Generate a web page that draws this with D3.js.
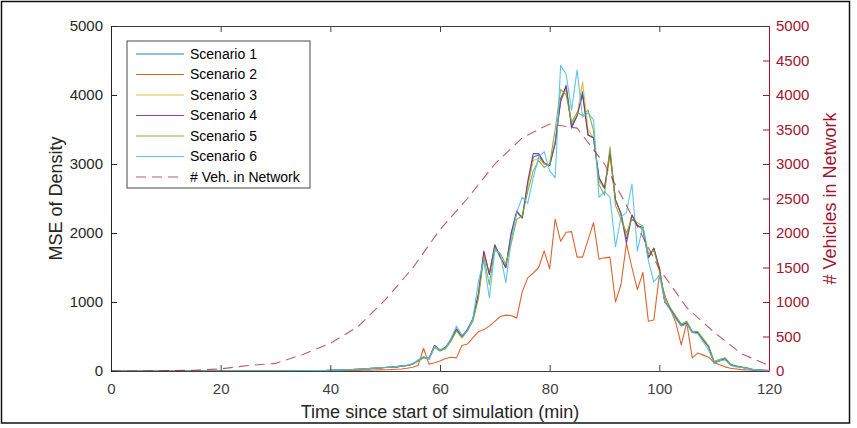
<!DOCTYPE html>
<html>
<head>
<meta charset="utf-8">
<script src="https://cdn.jsdelivr.net/npm/d3@7"></script>
<style>
  body { margin: 0; background: #fff; }
  svg { display: block; font-family: "Liberation Sans", Arial, sans-serif; }
</style>
</head>
<body>
<svg id="chart"></svg>
<script>
const width = 857;
const height = 428;

// -----------------------------
// DATA
// -----------------------------
// minutes 0..120, one sample per minute
const minutes = d3.range(0, 121);

const scenario1 = [
  0,0,0,0,0,0,0,0,0,0, 0,0,0,0,0,0,0,0,0,0, 0,0,0,0,0,0,0,0,0,0, 0,
  1,1,2,2,3,4,5,6,8,10,
  12,15,18,22,26,30,35,40,45,50,
  55,60,70,80,100,150,200,180,370,300,
  340,450,600,500,600,750,1100,1720,1400,1820,
  1650,1500,2000,2300,2220,2700,3100,3130,3000,2980,
  3300,3950,4120,3550,3700,4050,3420,3380,2800,2650,
  3150,2480,2280,1920,2260,2110,2050,1640,1780,1490,
  1000,900,780,660,700,560,560,450,350,120,
  150,180,90,70,55,40,20,15,10,5
];

const scenario2 = [
  0,0,0,0,0,0,0,0,0,0, 0,0,0,0,0,0,0,0,0,0, 0,0,0,0,0,0,0,0,0,0, 0,
  0,0,1,1,1,2,2,3,3,4,
  4,5,6,7,8,10,12,14,16,18,
  20,25,30,40,55,80,330,100,120,145,
  180,200,190,370,390,480,570,600,650,720,
  790,810,800,770,1150,1350,1420,1500,1740,1480,
  2200,1880,2010,2020,1650,1650,1900,2150,1620,1640,
  1650,1000,1250,1850,1500,1180,1430,720,740,1390,
  1100,900,700,380,700,190,260,230,200,120,
  90,60,40,30,20,15,10,5,3,0
];

const scenario3 = [
  0,0,0,0,0,0,0,0,0,0, 0,0,0,0,0,0,0,0,0,0, 0,0,0,0,0,0,0,0,0,0, 0,
  1,1,2,2,3,4,5,6,8,10,
  12,15,18,22,26,30,35,40,45,50,
  55,60,70,80,100,150,200,180,360,300,
  340,450,590,500,600,740,1080,1700,1420,1800,
  1640,1520,1980,2300,2230,2680,3050,3080,3000,2990,
  3320,3920,4080,3600,3700,4190,3500,3380,2750,2650,
  3100,2480,2270,1950,2250,2100,2050,1650,1770,1490,
  1010,900,780,660,700,560,550,450,350,120,
  150,180,90,70,55,40,20,15,10,5
];

const scenario4 = [
  0,0,0,0,0,0,0,0,0,0, 0,0,0,0,0,0,0,0,0,0, 0,0,0,0,0,0,0,0,0,0, 0,
  1,1,2,2,3,4,5,6,8,10,
  12,15,18,22,26,30,35,40,45,50,
  55,60,70,80,100,150,200,180,370,300,
  340,460,610,500,600,760,1120,1740,1400,1830,
  1650,1500,2000,2320,2220,2750,3150,3150,3020,2980,
  3300,3900,4140,3520,3700,4000,3420,3380,2800,2650,
  3180,2480,2280,1850,2260,2110,2080,1640,1780,1490,
  1000,900,780,660,700,560,560,450,350,120,
  150,180,90,70,55,40,20,15,10,5
];

const scenario5 = [
  0,0,0,0,0,0,0,0,0,0, 0,0,0,0,0,0,0,0,0,0, 0,0,0,0,0,0,0,0,0,0, 0,
  1,1,2,2,3,4,5,6,8,10,
  12,15,18,22,26,30,35,40,45,50,
  55,60,70,80,100,140,190,170,340,290,
  320,430,580,480,580,720,1050,1650,1250,1780,
  1700,1550,1850,2200,2250,2600,2900,3050,2950,3000,
  3500,4080,4000,3600,3750,3700,3780,3480,2700,2550,
  3250,2400,2200,2000,2200,2150,2100,1700,1750,1450,
  1050,920,800,680,720,580,570,470,360,140,
  170,190,100,75,60,45,25,18,12,6
];

const scenario6 = [
  0,0,0,0,0,0,0,0,0,0, 0,0,0,0,0,0,0,0,0,0, 0,0,0,0,0,0,0,0,0,0, 0,
  1,1,2,2,3,4,5,6,8,10,
  12,15,18,22,26,30,36,42,48,55,
  60,65,75,85,105,160,210,170,360,310,
  330,470,650,520,580,760,1300,1600,1060,1750,
  1700,1280,1900,2300,2520,2430,2800,3100,3180,2900,
  2800,4430,4300,3780,4360,3680,3740,3640,2520,2600,
  2520,1800,2230,2300,2710,1740,2100,1600,1290,1390,
  1000,880,750,650,680,560,540,420,300,110,
  150,160,80,60,50,35,20,12,8,3
];

// vehicles in network, every 5 minutes
const vehTime = [0,5,10,15,20,25,30,35,40,45,50,55,60,65,70,75,80,85,90,95,100,105,110,115,120];
const vehicles = [0,0,5,10,30,80,110,240,400,640,1030,1490,2050,2500,3000,3380,3580,3520,3000,2250,1480,920,560,250,80];

const seriesNames = ["Scenario 1","Scenario 2","Scenario 3","Scenario 4","Scenario 5","Scenario 6"];
const seriesValues = [scenario1, scenario2, scenario3, scenario4, scenario5, scenario6];
const seriesColors = ["#0072BD","#D95319","#EDB120","#7E2F8E","#77AC30","#4DBEEE"];
const vehName = "# Veh. in Network";
const vehColor = "#A2142F";

const xTicks = [0,20,40,60,80,100,120];
const yLeftTicks = [0,1000,2000,3000,4000,5000];
const yRightTicks = [0,500,1000,1500,2000,2500,3000,3500,4000,4500,5000];

// -----------------------------
// LAYOUT
// -----------------------------
const plot = { left: 111, right: 769, top: 26, bottom: 371 };
const axisColor = "#404040";
const fmt = d3.format("d");

const svg = d3.select("#chart")
  .attr("width", width)
  .attr("height", height);

const x = d3.scaleLinear().domain([0, 120]).range([plot.left, plot.right]);
const yL = d3.scaleLinear().domain([0, 5000]).range([plot.bottom, plot.top]);
const yR = d3.scaleLinear().domain([0, 5000]).range([plot.bottom, plot.top]);

// -----------------------------
// LINES
// -----------------------------
const lines = svg.append("g");

const line = d3.line()
  .x((d, i) => x(minutes[i]))
  .y(d => yL(d));

seriesValues.forEach((vals, k) => {
  lines.append("path")
    .datum(vals)
    .attr("fill", "none")
    .attr("stroke", seriesColors[k])
    .attr("stroke-width", 1.1)
    .attr("stroke-opacity", 0.9)
    .attr("stroke-linejoin", "round")
    .attr("d", line);
});

const vehLine = d3.line()
  .x((d, i) => x(vehTime[i]))
  .y(d => yR(d));

lines.append("path")
  .datum(vehicles)
  .attr("fill", "none")
  .attr("stroke", vehColor)
  .attr("stroke-opacity", 0.7)
  .attr("stroke-width", 1.1)
  .attr("stroke-dasharray", "10,6")
  .attr("d", vehLine);

// -----------------------------
// AXES
// -----------------------------
const styleAxis = (g, color) => {
  g.selectAll("path.domain").attr("stroke", color).attr("stroke-width", 1);
  g.selectAll(".tick line").attr("stroke", color);
  g.selectAll(".tick text")
    .attr("fill", color)
    .attr("font-size", 15)
    .attr("font-family", "'Liberation Sans', Arial, sans-serif");
};

const xBottom = svg.append("g")
  .attr("transform", `translate(0,${plot.bottom})`)
  .call(d3.axisBottom(x).tickValues(xTicks).tickFormat(fmt).tickSizeInner(-6).tickSizeOuter(0).tickPadding(12));
styleAxis(xBottom, axisColor);

const xTop = svg.append("g")
  .attr("transform", `translate(0,${plot.top})`)
  .call(d3.axisTop(x).tickValues(xTicks).tickSizeInner(-6).tickSizeOuter(0).tickFormat(""));
styleAxis(xTop, axisColor);

const yLeft = svg.append("g")
  .attr("transform", `translate(${plot.left},0)`)
  .call(d3.axisLeft(yL).tickValues(yLeftTicks).tickFormat(fmt).tickSizeInner(-6).tickSizeOuter(0).tickPadding(8));
styleAxis(yLeft, "#262626");

const yRight = svg.append("g")
  .attr("transform", `translate(${plot.right},0)`)
  .call(d3.axisRight(yR).tickValues(yRightTicks).tickFormat(fmt).tickSizeInner(-6).tickSizeOuter(0).tickPadding(7));
styleAxis(yRight, vehColor);

// axis labels
svg.append("text")
  .attr("transform", `translate(56,${(plot.top + plot.bottom) / 2}) rotate(-90)`)
  .attr("text-anchor", "middle")
  .attr("dy", "0.35em")
  .attr("font-size", 18)
  .attr("fill", "#262626")
  .text("MSE of Density");

svg.append("text")
  .attr("transform", `translate(830,${(plot.top + plot.bottom) / 2}) rotate(-90)`)
  .attr("text-anchor", "middle")
  .attr("dy", "0.35em")
  .attr("font-size", 18)
  .attr("fill", vehColor)
  .text("# Vehicles in Network");

svg.append("text")
  .attr("x", (plot.left + plot.right) / 2)
  .attr("y", 418)
  .attr("text-anchor", "middle")
  .attr("font-size", 18)
  .attr("fill", "#262626")
  .text("Time since start of simulation (min)");

// -----------------------------
// LEGEND
// -----------------------------
const legend = svg.append("g").attr("transform", "translate(127,41)");

legend.append("rect")
  .attr("width", 183)
  .attr("height", 147)
  .attr("fill", "#fff")
  .attr("stroke", "#666")
  .attr("stroke-width", 1.2);

const legendItems = seriesNames.map((n, i) => ({ name: n, color: seriesColors[i], dash: null }))
  .concat([{ name: vehName, color: vehColor, dash: "10,6" }]);

const row = legend.selectAll("g.item")
  .data(legendItems)
  .join("g")
  .attr("class", "item")
  .attr("transform", (d, i) => `translate(0,${13 + i * 20.5})`);

row.append("line")
  .attr("x1", 9).attr("x2", 57)
  .attr("stroke", d => d.color)
  .attr("stroke-opacity", d => d.dash ? 0.7 : 0.9)
  .attr("stroke-width", 1.2)
  .attr("stroke-dasharray", d => d.dash);

row.append("text")
  .attr("x", 63)
  .attr("dy", "0.35em")
  .attr("font-size", 14)
  .attr("fill", "#000")
  .text(d => d.name);

// -----------------------------
// FRAME
// -----------------------------
svg.append("rect")
  .attr("x", 1.5).attr("y", 1.5)
  .attr("width", 848).attr("height", 421.5)
  .attr("fill", "none")
  .attr("stroke", "#111")
  .attr("stroke-width", 1.5);
</script>
</body>
</html>
